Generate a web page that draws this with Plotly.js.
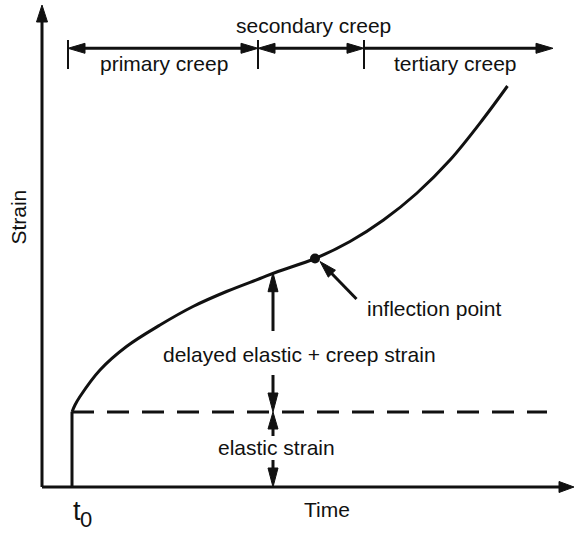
<!DOCTYPE html>
<html>
<head>
<meta charset="utf-8">
<script src="https://cdn.plot.ly/plotly-3.0.1.min.js"></script>
<style>html,body{margin:0;padding:0;background:#fff;}#chart{width:575px;height:534px;}</style>
</head>
<body>
<div id="chart"></div>
<script>
// ---- data (schematic creep curve, arbitrary units) ----
const timePts   = [0.6, 0.66, 0.76, 1.16, 1.69, 2.36, 3.02, 3.69, 4.36, 4.72, 5.46, 6.16, 6.83, 7.49, 8.16, 8.83, 9.31];
const strainPts = [1.5, 1.64, 1.81, 2.34, 2.81, 3.24, 3.61, 3.91, 4.17, 4.31, 4.57, 4.91, 5.34, 5.87, 6.54, 7.37, 8.02];
const t0 = 0.6;
const elasticStrain = 1.5;
const inflectionX = [5.46];
const inflectionY = [4.57];
const phaseBounds = [0.52, 4.32, 6.44, 10.22];
const phaseLabels = ['primary creep', 'secondary creep', 'tertiary creep'];
const markerTime = 4.62;
const markerStrainAtCurve = 4.286;
const axisLabels = {x: 'Time', y: 'Strain'};

// ---- drawing helpers ----
const C = '#111';
const FONT = 'Liberation Sans, Arial, Helvetica, sans-serif';
const XR = [-0.84, 10.66], YR = [-0.94, 9.74];
const PX = (XR[1] - XR[0]) / 575; // data units per pixel (same on both axes)
const shapes = [];
function line(x0, y0, x1, y1, w, dash) {
  shapes.push({type: 'line', xref: 'x', yref: 'y', x0, y0, x1, y1,
    line: {color: C, width: w || 3, dash: dash || 'solid'}});
}
function head(tx, ty, ux, uy, L, Wd) {
  L = L || 17; Wd = Wd || 10;
  const bx = tx - ux * L * PX, by = ty - uy * L * PX;
  const nx = -uy, ny = ux;
  const h = Wd / 2 * PX;
  shapes.push({type: 'path', xref: 'x', yref: 'y',
    path: `M${tx},${ty} L${bx + nx * h},${by + ny * h} L${bx - nx * h},${by - ny * h} Z`,
    fillcolor: C, line: {color: C, width: 1}});
}
function arrow(x0, y0, x1, y1, both, L, Wd) {
  const d = Math.hypot(x1 - x0, y1 - y0);
  const ux = (x1 - x0) / d, uy = (y1 - y0) / d;
  const cut = 7 * PX;
  const sx0 = both ? x0 + ux * cut : x0, sy0 = both ? y0 + uy * cut : y0;
  line(sx0, sy0, x1 - ux * cut, y1 - uy * cut, 3);
  head(x1, y1, ux, uy, L, Wd);
  if (both) head(x0, y0, -ux, -uy, L, Wd);
}

// axes with arrows
arrow(0, 0, 0, 9.64, false, 17, 11);
arrow(0, 0, 10.64, 0, false, 15, 11);
// t0 vertical and elastic-strain dashed level
line(t0, 0, t0, elasticStrain, 3);
line(t0, elasticStrain, 10.1, elasticStrain, 3, '22px,13px');
// creep stage arrows on top
const topY = 8.774;
for (let i = 0; i < phaseBounds.length - 1; i++) {
  arrow(phaseBounds[i], topY, phaseBounds[i + 1], topY, i < 2, 17, 10);
}
phaseBounds.slice(0, 3).forEach(b => line(b, 8.94, b, 8.36, 2));
// vertical strain component arrows
arrow(markerTime, 3.12, markerTime, markerStrainAtCurve, false, 19, 10);
arrow(markerTime, 2.24, markerTime, elasticStrain, false, 19, 10);
arrow(markerTime, 1.02, markerTime, elasticStrain, false, 17, 10);
arrow(markerTime, 0.54, markerTime, 0, false, 19, 10);
// inflection pointer arrow
arrow(6.29, 3.76, 5.56, 4.51, false, 17, 10);

function txt(text, x, y, size, angle) {
  return {text, x, y, xref: 'x', yref: 'y', showarrow: false, xanchor: 'center', yanchor: 'middle',
    textangle: angle || 0, font: {family: FONT, size: size || 21, color: C}};
}
const annotations = [
  txt(phaseLabels[0], 2.43, 8.468),
  txt(phaseLabels[1], 5.42, 9.226),
  txt(phaseLabels[2], 8.26, 8.468),
  txt('inflection point', 7.83, 3.568),
  txt('delayed elastic + creep strain', 5.14, 2.654),
  txt('elastic strain', 4.68, 0.788),
  txt(axisLabels.x, 5.69, -0.452),
  txt(axisLabels.y, -0.488, 5.4, 21, -90),
  txt('t', 0.696, -0.485, 27),
  txt('0', 0.88, -0.64, 22)
];

const traces = [
  {x: timePts, y: strainPts, type: 'scatter', mode: 'lines',
   line: {color: C, width: 3, shape: 'spline'}, hoverinfo: 'skip'},
  {x: inflectionX, y: inflectionY, type: 'scatter', mode: 'markers',
   marker: {color: C, size: 10}, hoverinfo: 'skip'}
];

const layout = {
  width: 575, height: 534,
  margin: {l: 0, r: 0, t: 0, b: 0, pad: 0},
  paper_bgcolor: '#fff', plot_bgcolor: '#fff',
  showlegend: false,
  xaxis: {range: XR, visible: false, fixedrange: true},
  yaxis: {range: YR, visible: false, fixedrange: true},
  shapes, annotations
};
Plotly.newPlot('chart', traces, layout, {staticPlot: true, displayModeBar: false});
</script>
</body>
</html>
